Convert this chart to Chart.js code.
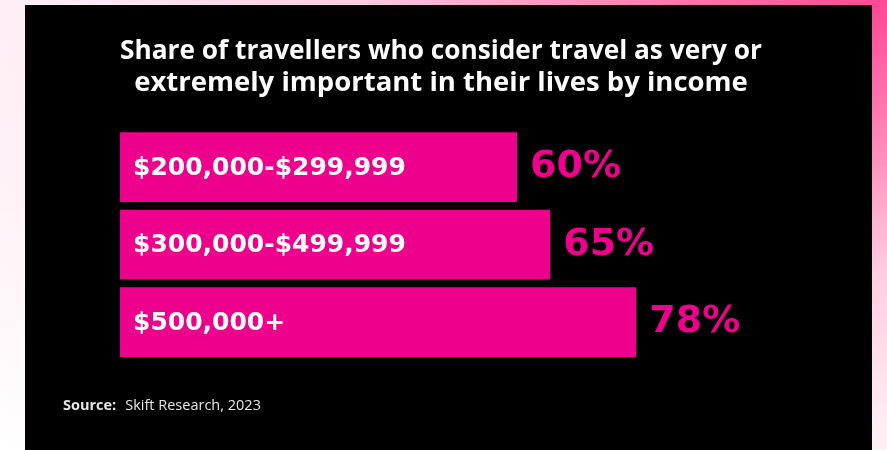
<!DOCTYPE html>
<html>
<head>
<meta charset="utf-8">
<script src="https://cdn.jsdelivr.net/npm/chart.js@4.4.1/dist/chart.umd.min.js"></script>
<style>
  html, body { margin: 0; padding: 0; }
  body {
    width: 887px; height: 450px; overflow: hidden; position: relative;
    background: radial-gradient(ellipse at top right, #ff4795 0%, #ff7ab1 18%, #ffcbe0 42%, #ffeef5 68%, #ffffff 100%);
  }
  #panel {
    position: absolute; left: 25px; top: 5px; width: 847px; height: 445px;
    background: #000;
  }
  #incomeChart { display: block; }
</style>
</head>
<body>
<div id="panel">
  <canvas id="incomeChart" width="847" height="445"></canvas>
</div>
<script>
// =======================================
// DATA
// =======================================

const incomeGroups = ["$200,000-$299,999", "$300,000-$499,999", "$500,000+"];

const shareImportant = [60, 65, 78];

const titleLines = [
    "Share of travellers who consider travel as very or",
    "extremely important in their lives by income"
];

const sourceLabel = "Source:";
const sourceText = "Skift Research, 2023";

const PINK = "#ec008c";

// =======================================
// LABELS + SOURCE (custom plugin)
// =======================================

const barLabels = {
    id: "barLabels",
    afterDatasetsDraw(chart) {
        const ctx = chart.ctx;
        const meta = chart.getDatasetMeta(0);
        ctx.save();
        ctx.textBaseline = "middle";
        ctx.textAlign = "left";
        meta.data.forEach((bar, i) => {
            // category name inside the bar
            ctx.fillStyle = "#ffffff";
            ctx.font = "bold 25px 'DejaVu Sans'";
            ctx.fillText(incomeGroups[i], bar.base + 13, bar.y + 1);

            // value right of the bar
            ctx.fillStyle = PINK;
            ctx.font = "bold 38px 'DejaVu Sans'";
            ctx.fillText(shareImportant[i] + "%", bar.x + 13, bar.y);
        });
        ctx.restore();
    },
    afterDraw(chart) {
        const ctx = chart.ctx;
        ctx.save();
        ctx.textBaseline = "alphabetic";
        ctx.fillStyle = "#e6e6e6";
        ctx.font = "bold 14.5px 'Open Sans'";
        ctx.fillText(sourceLabel, 38, 405);
        const w = ctx.measureText(sourceLabel).width;
        ctx.font = "14.5px 'Open Sans'";
        ctx.fillText(sourceText, 38 + w + 9, 405);
        ctx.restore();
    }
};

// =======================================
// CHART
// =======================================

const incomeChart = new Chart(
document.getElementById("incomeChart"),
{
    type: "bar",

    data: {
        labels: incomeGroups,
        datasets: [{
            data: shareImportant,
            backgroundColor: PINK,
            borderWidth: 0,
            barPercentage: 0.9,
            categoryPercentage: 1
        }]
    },

    options: {
        indexAxis: "y",
        responsive: false,
        animation: false,
        layout: {
            padding: { top: 0, left: 95, right: 110, bottom: 89 }
        },
        scales: {
            x: { display: false, min: 0, max: 97 },
            y: { display: false }
        },
        plugins: {
            legend: { display: false },
            tooltip: { enabled: false },
            title: {
                display: true,
                text: titleLines,
                color: "#ffffff",
                font: {
                    family: "'Open Sans'",
                    size: 27.5,
                    weight: "bold",
                    lineHeight: 1.17
                },
                padding: { top: 30, bottom: 29 }
            }
        }
    },

    plugins: [barLabels]
});
</script>
</body>
</html>
